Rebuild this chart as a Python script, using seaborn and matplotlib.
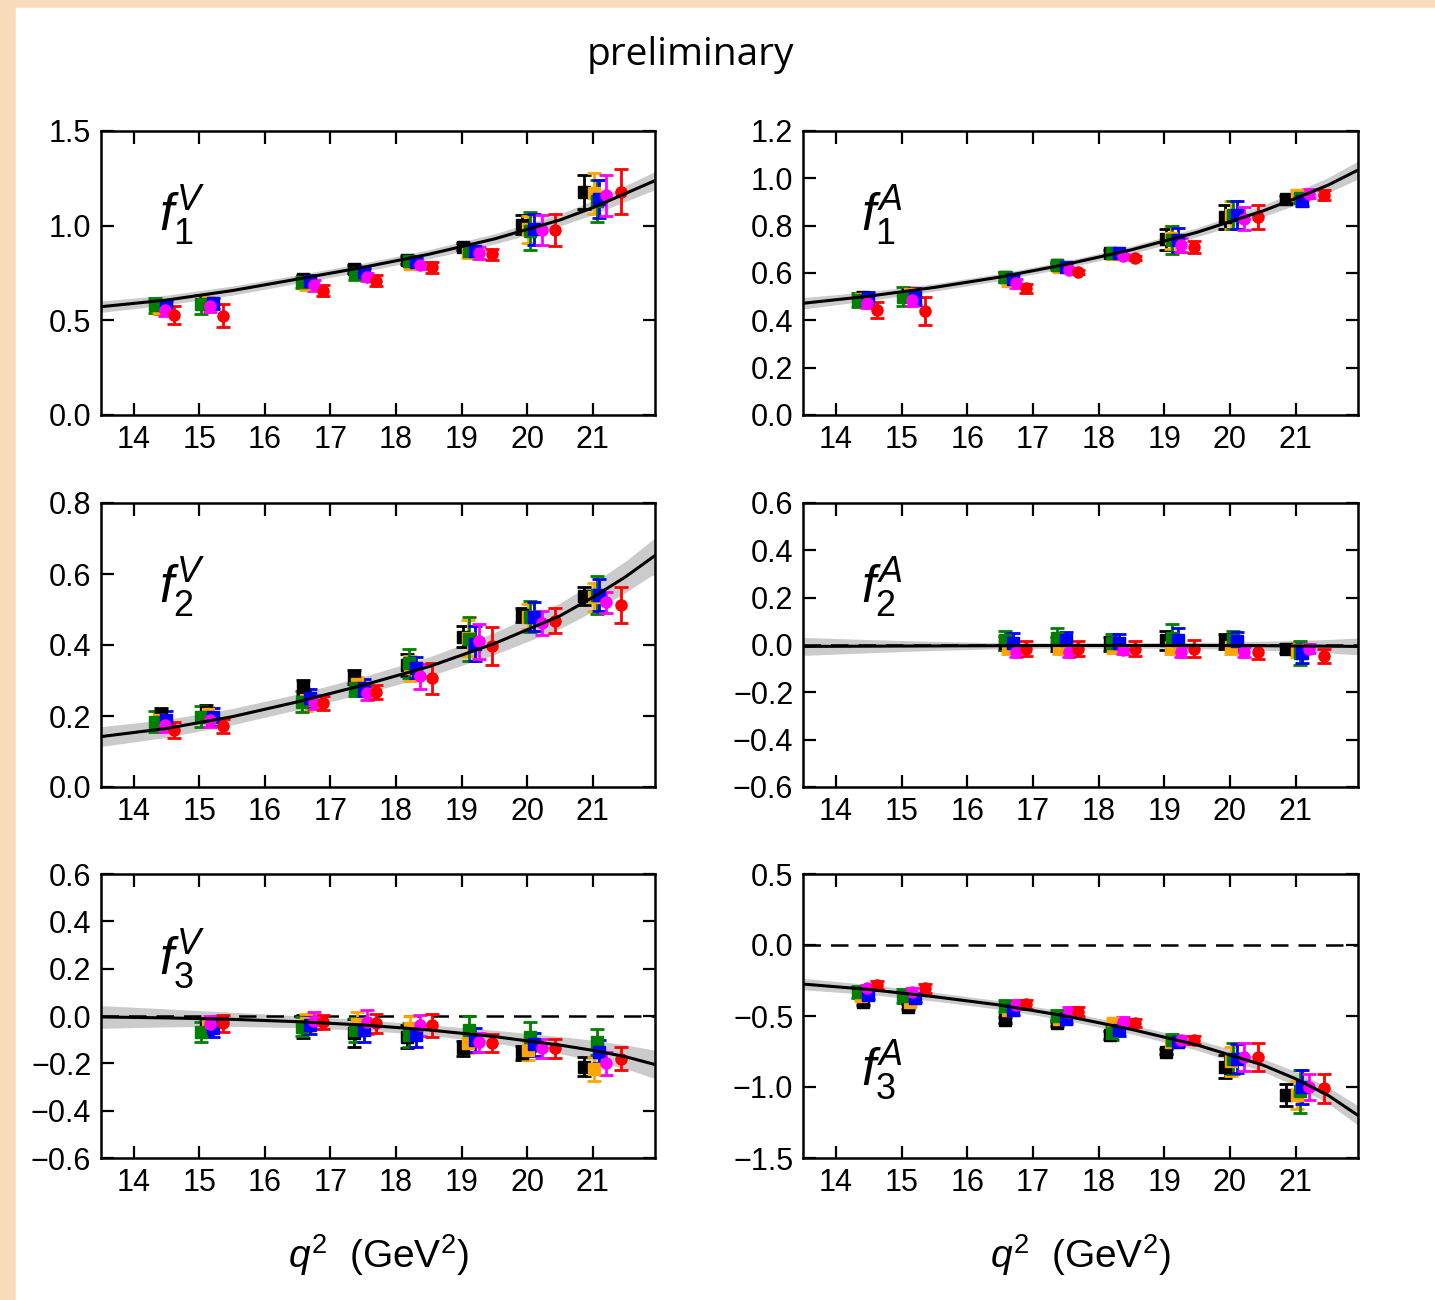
import numpy as np
import matplotlib
matplotlib.use("Agg")
import matplotlib.pyplot as plt
from matplotlib.patches import Rectangle
import seaborn as sns

# --- data ----------------------------------------------------------------
SERIES = ['black', 'orange', 'green', 'blue', 'magenta', 'red']
COLORS = {'black': 'black', 'orange': '#ffa500', 'green': '#008000',
          'blue': '#0000ff', 'magenta': '#ff00ff', 'red': '#ff0000'}
MARKERS = {'black': 's', 'orange': 's', 'green': 's',
           'blue': 's', 'magenta': 'o', 'red': 'o'}

# q^2 (GeV^2) of every data point, per series
QSQ = {
    'black':   [14.41, 15.10, 16.58, 17.36, 18.17, 19.02, 19.92, 20.86],
    'orange':  [14.38, 15.13, 16.62, 17.40, 18.22, 19.10, 20.02, 21.02],
    'green':   [14.33, 15.03, 16.57, 17.37, 18.20, 19.12, 20.04, 21.07],
    'blue':    [14.49, 15.21, 16.69, 17.51, 18.31, 19.21, 20.11, 21.10],
    'magenta': [14.47, 15.16, 16.75, 17.55, 18.37, 19.26, 20.22, 21.21],
    'red':     [14.62, 15.36, 16.89, 17.69, 18.55, 19.46, 20.42, 21.43],
}

F1V_VAL = {
    'black':   [0.565, 0.590, 0.717, 0.770, 0.820, 0.889, 1.004, 1.176],
    'orange':  [0.565, 0.595, 0.690, 0.745, 0.800, 0.860, 0.980, 1.170],
    'green':   [0.580, 0.585, 0.700, 0.745, 0.815, 0.865, 0.970, 1.130],
    'blue':    [0.570, 0.590, 0.710, 0.755, 0.810, 0.865, 0.980, 1.140],
    'magenta': [0.555, 0.575, 0.685, 0.730, 0.790, 0.855, 0.978, 1.160],
    'red':     [0.528, 0.525, 0.657, 0.710, 0.780, 0.849, 0.978, 1.180],
}
F1V_ERR = {
    'black':   [0.03, 0.03, 0.025, 0.02, 0.02, 0.02, 0.05, 0.09],
    'orange':  [0.03, 0.03, 0.03, 0.02, 0.02, 0.03, 0.07, 0.11],
    'green':   [0.04, 0.05, 0.03, 0.03, 0.02, 0.03, 0.10, 0.11],
    'blue':    [0.03, 0.03, 0.03, 0.02, 0.02, 0.02, 0.08, 0.10],
    'magenta': [0.03, 0.03, 0.03, 0.02, 0.02, 0.03, 0.08, 0.11],
    'red':     [0.05, 0.06, 0.03, 0.03, 0.03, 0.03, 0.085, 0.12],
}

F1A_VAL = {
    'black':   [0.500, 0.507, 0.584, 0.634, 0.686, 0.742, 0.838, 0.911],
    'orange':  [0.490, 0.510, 0.565, 0.625, 0.680, 0.750, 0.845, 0.930],
    'green':   [0.486, 0.500, 0.585, 0.632, 0.685, 0.740, 0.845, 0.915],
    'blue':    [0.495, 0.500, 0.575, 0.627, 0.683, 0.740, 0.845, 0.905],
    'magenta': [0.472, 0.486, 0.556, 0.613, 0.672, 0.720, 0.830, 0.935],
    'red':     [0.444, 0.440, 0.535, 0.603, 0.665, 0.711, 0.838, 0.929],
}
F1A_ERR = {
    'black':   [0.02, 0.03, 0.02, 0.01, 0.01, 0.045, 0.05, 0.015],
    'orange':  [0.02, 0.03, 0.02, 0.01, 0.01, 0.05, 0.06, 0.02],
    'green':   [0.03, 0.04, 0.02, 0.015, 0.01, 0.06, 0.06, 0.02],
    'blue':    [0.025, 0.035, 0.02, 0.015, 0.01, 0.05, 0.06, 0.02],
    'magenta': [0.02, 0.025, 0.02, 0.01, 0.01, 0.03, 0.05, 0.02],
    'red':     [0.035, 0.058, 0.02, 0.008, 0.008, 0.025, 0.05, 0.02],
}

F2V_VAL = {
    'black':   [0.203, 0.212, 0.282, 0.310, 0.344, 0.423, 0.485, 0.538],
    'orange':  [0.190, 0.205, 0.245, 0.290, 0.335, 0.420, 0.480, 0.535],
    'green':   [0.184, 0.198, 0.240, 0.280, 0.348, 0.418, 0.480, 0.540],
    'blue':    [0.190, 0.198, 0.250, 0.280, 0.336, 0.404, 0.480, 0.540],
    'magenta': [0.175, 0.190, 0.240, 0.265, 0.312, 0.410, 0.462, 0.520],
    'red':     [0.160, 0.172, 0.236, 0.267, 0.306, 0.397, 0.468, 0.513],
}
F2V_ERR = {
    'black':   [0.02, 0.02, 0.02, 0.02, 0.03, 0.03, 0.02, 0.025],
    'orange':  [0.02, 0.02, 0.03, 0.02, 0.035, 0.05, 0.035, 0.04],
    'green':   [0.03, 0.03, 0.03, 0.025, 0.042, 0.062, 0.043, 0.053],
    'blue':    [0.025, 0.025, 0.025, 0.025, 0.03, 0.05, 0.04, 0.045],
    'magenta': [0.02, 0.02, 0.02, 0.02, 0.035, 0.05, 0.035, 0.03],
    'red':     [0.023, 0.02, 0.02, 0.02, 0.043, 0.053, 0.035, 0.05],
}

# f2A: only the six highest q^2 points
F2A_VAL = {
    'black':   [0.007, 0.005, 0.005, 0.020, 0.015, -0.015],
    'orange':  [-0.010, -0.010, -0.005, -0.010, -0.010, -0.020],
    'green':   [0.020, 0.030, 0.010, 0.030, 0.020, -0.035],
    'blue':    [0.010, 0.020, 0.010, 0.020, 0.015, -0.035],
    'magenta': [-0.030, -0.030, -0.020, -0.030, -0.030, -0.015],
    'red':     [-0.015, -0.015, -0.015, -0.015, -0.028, -0.045],
}
F2A_ERR = {
    'black':   [0.03, 0.03, 0.03, 0.04, 0.03, 0.02],
    'orange':  [0.03, 0.03, 0.03, 0.03, 0.03, 0.03],
    'green':   [0.04, 0.04, 0.035, 0.06, 0.04, 0.05],
    'blue':    [0.04, 0.035, 0.035, 0.05, 0.04, 0.04],
    'magenta': [0.02, 0.02, 0.02, 0.02, 0.02, 0.02],
    'red':     [0.03, 0.03, 0.03, 0.035, 0.03, 0.03],
}

# f3V: the seven highest q^2 points
F3V_VAL = {
    'black':   [-0.052, -0.045, -0.073, -0.087, -0.137, -0.158, -0.214],
    'orange':  [-0.040, -0.030, -0.035, -0.050, -0.115, -0.145, -0.225],
    'green':   [-0.066, -0.045, -0.060, -0.080, -0.060, -0.087, -0.110],
    'blue':    [-0.052, -0.040, -0.060, -0.080, -0.100, -0.120, -0.150],
    'magenta': [-0.035, -0.020, -0.025, -0.040, -0.110, -0.136, -0.200],
    'red':     [-0.031, -0.025, -0.030, -0.040, -0.114, -0.136, -0.180],
}
F3V_ERR = {
    'black':   [0.03, 0.05, 0.06, 0.05, 0.03, 0.03, 0.04],
    'orange':  [0.03, 0.04, 0.05, 0.05, 0.04, 0.04, 0.05],
    'green':   [0.042, 0.04, 0.05, 0.05, 0.06, 0.06, 0.055],
    'blue':    [0.035, 0.035, 0.05, 0.05, 0.05, 0.05, 0.05],
    'magenta': [0.035, 0.035, 0.05, 0.045, 0.04, 0.04, 0.05],
    'red':     [0.037, 0.03, 0.04, 0.05, 0.04, 0.04, 0.05],
}

F3A_VAL = {
    'black':   [-0.400, -0.434, -0.528, -0.550, -0.634, -0.750, -0.857, -1.056],
    'orange':  [-0.360, -0.400, -0.460, -0.520, -0.550, -0.680, -0.820, -1.056],
    'green':   [-0.330, -0.360, -0.430, -0.500, -0.620, -0.670, -0.800, -1.030],
    'blue':    [-0.350, -0.370, -0.460, -0.520, -0.600, -0.680, -0.800, -1.000],
    'magenta': [-0.300, -0.330, -0.420, -0.470, -0.540, -0.670, -0.790, -1.000],
    'red':     [-0.280, -0.305, -0.418, -0.470, -0.550, -0.670, -0.790, -1.010],
}
F3A_ERR = {
    'black':   [0.02, 0.02, 0.02, 0.02, 0.03, 0.02, 0.08, 0.08],
    'orange':  [0.03, 0.03, 0.03, 0.03, 0.03, 0.03, 0.10, 0.10],
    'green':   [0.04, 0.05, 0.04, 0.04, 0.05, 0.04, 0.11, 0.15],
    'blue':    [0.03, 0.03, 0.03, 0.03, 0.04, 0.03, 0.10, 0.12],
    'magenta': [0.02, 0.03, 0.03, 0.03, 0.03, 0.03, 0.10, 0.09],
    'red':     [0.03, 0.03, 0.03, 0.03, 0.03, 0.03, 0.10, 0.10],
}

# fit curves (central value and half width of the grey band)
Q_FIT = [13.5, 14.5, 15.5, 16.5, 17.5, 18.5, 19.5, 20.5, 21.0, 21.5, 21.95]
F1V_FIT = [0.572, 0.607, 0.657, 0.718, 0.780, 0.849, 0.930, 1.030, 1.095, 1.170, 1.238]
F1V_BAND = [0.030, 0.026, 0.024, 0.022, 0.022, 0.024, 0.027, 0.032, 0.037, 0.042, 0.048]
F1A_FIT = [0.472, 0.502, 0.539, 0.583, 0.636, 0.698, 0.772, 0.862, 0.915, 0.972, 1.035]
F1A_BAND = [0.024, 0.019, 0.016, 0.015, 0.015, 0.016, 0.019, 0.024, 0.028, 0.032, 0.038]
F2V_FIT = [0.142, 0.165, 0.198, 0.240, 0.287, 0.339, 0.404, 0.482, 0.534, 0.592, 0.652]
F2V_BAND = [0.028, 0.025, 0.023, 0.022, 0.024, 0.027, 0.031, 0.036, 0.040, 0.044, 0.050]
F2A_FIT = [-0.006, -0.005, -0.004, -0.003, -0.002, -0.002, -0.002, -0.003, -0.004, -0.005, -0.006]
F2A_BAND = [0.038, 0.028, 0.019, 0.013, 0.011, 0.011, 0.013, 0.019, 0.023, 0.028, 0.036]
F3V_FIT = [-0.004, -0.008, -0.014, -0.024, -0.038, -0.059, -0.087, -0.123, -0.145, -0.172, -0.205]
F3V_BAND = [0.048, 0.038, 0.030, 0.025, 0.022, 0.022, 0.027, 0.036, 0.043, 0.050, 0.060]
F3A_FIT = [-0.275, -0.313, -0.364, -0.423, -0.500, -0.594, -0.704, -0.845, -0.942, -1.060, -1.200]
F3A_BAND = [0.040, 0.035, 0.031, 0.030, 0.030, 0.032, 0.037, 0.045, 0.051, 0.058, 0.068]

X_TICKS = [14, 15, 16, 17, 18, 19, 20, 21]

# --- style -----------------------------------------------------------------
sns.set_theme(style="ticks")
plt.rcParams['font.family'] = ['Liberation Sans', 'DejaVu Sans']
plt.rcParams['mathtext.fontset'] = 'custom'
plt.rcParams['mathtext.rm'] = 'Liberation Sans'
plt.rcParams['mathtext.it'] = 'Liberation Sans:italic'
plt.rcParams['axes.unicode_minus'] = True

fig = plt.figure(figsize=(14.35, 13), dpi=100, facecolor='#f8dcbc')
# white page inside the peach frame, drawn under the axes
fig.patches.append(Rectangle((16 / 1435, 0), 1, 1 - 8 / 1300,
                             transform=fig.transFigure, color='white', zorder=-10))

col_x = [101 / 1435, 803 / 1435]
col_w = [554 / 1435, 555 / 1435]
row_y = [1 - 415 / 1300, 1 - 787 / 1300, 1 - 1158 / 1300]
row_h = 284 / 1300

panels = [
    # (row, col, label, values, errors, first point, fit, band, ylim, yticks, zero line, label y)
    (0, 0, r'$f_1^V$', F1V_VAL, F1V_ERR, 0, F1V_FIT, F1V_BAND, (0, 1.5), np.arange(0, 1.51, 0.5), False, 0.70),
    (0, 1, r'$f_1^A$', F1A_VAL, F1A_ERR, 0, F1A_FIT, F1A_BAND, (0, 1.2), np.arange(0, 1.21, 0.2), False, 0.70),
    (1, 0, r'$f_2^V$', F2V_VAL, F2V_ERR, 0, F2V_FIT, F2V_BAND, (0, 0.8), np.arange(0, 0.81, 0.2), False, 0.70),
    (1, 1, r'$f_2^A$', F2A_VAL, F2A_ERR, 2, F2A_FIT, F2A_BAND, (-0.6, 0.6), np.arange(-0.6, 0.61, 0.2), True, 0.70),
    (2, 0, r'$f_3^V$', F3V_VAL, F3V_ERR, 1, F3V_FIT, F3V_BAND, (-0.6, 0.6), np.arange(-0.6, 0.61, 0.2), True, 0.70),
    (2, 1, r'$f_3^A$', F3A_VAL, F3A_ERR, 0, F3A_FIT, F3A_BAND, (-1.5, 0.5), np.arange(-1.5, 0.51, 0.5), True, 0.31),
]

for row, col, label, vals, errs, start, fit, band, ylim, yticks, zero, label_y in panels:
    ax = fig.add_axes([col_x[col], row_y[row], col_w[col], row_h])
    ax.set_facecolor('white')

    lo = np.array(fit) - np.array(band)
    hi = np.array(fit) + np.array(band)
    ax.fill_between(Q_FIT, lo, hi, color='#cbcbcb', lw=0, zorder=1)
    if zero:
        ax.axhline(0, color='black', lw=1.8, ls=(0, (7, 4)), zorder=2)

    for s in SERIES:
        ax.errorbar(QSQ[s][start:], vals[s], yerr=errs[s], fmt=MARKERS[s],
                    color=COLORS[s], ms=8, elinewidth=2, capsize=5,
                    capthick=2, zorder=3)

    sns.lineplot(x=Q_FIT, y=fit, ax=ax, color='black', linewidth=2.2, zorder=4)

    ax.set_xlim(13.5, 21.95)
    ax.set_ylim(*ylim)
    ax.set_xticks(X_TICKS)
    ax.set_yticks(yticks)
    ax.tick_params(direction='in', top=True, right=True, length=9,
                   width=1.6, labelsize=22, color='black', labelcolor='black')
    ax.tick_params(axis='x', pad=7)
    ax.tick_params(axis='y', pad=7)
    for sp in ax.spines.values():
        sp.set_color('black')
        sp.set_linewidth(1.8)
    ax.grid(False)
    ax.text(0.105, label_y, label, transform=ax.transAxes, fontsize=37,
            ha='left', va='center', color='black')

fig.text(690 / 1435, 1 - 55 / 1300, 'preliminary', ha='center', va='center',
         fontsize=28, family=['Open Sans', 'DejaVu Sans'], color='black')
for cx in [(101 + 655) / 2 / 1435, (803 + 1358) / 2 / 1435]:
    fig.text(cx, 1 - 1255 / 1300, r'$q^2$  (GeV$^2$)', ha='center',
             va='center', fontsize=28, color='black')

fig.savefig('out.png', dpi=100, facecolor=fig.get_facecolor())
